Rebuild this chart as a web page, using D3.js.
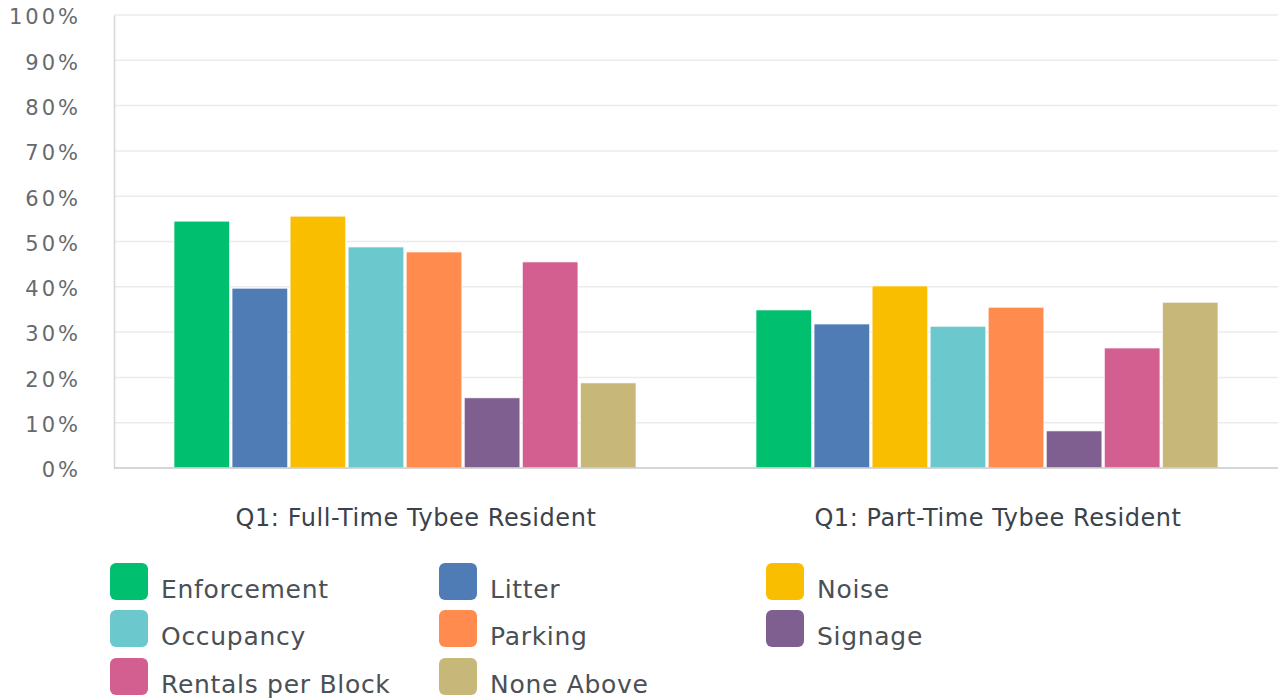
<!DOCTYPE html>
<html><head><meta charset="utf-8">
<script src="https://cdn.jsdelivr.net/npm/d3@7"></script>
<style>body{margin:0;background:#fff;} svg{display:block;}</style>
</head><body>
<svg id="c" width="1281" height="699"></svg>
<script>
const categories = ["Q1: Full-Time Tybee Resident", "Q1: Part-Time Tybee Resident"];
const seriesNames = ["Enforcement","Litter","Noise","Occupancy","Parking","Signage","Rentals per Block","None Above"];
const seriesColors = ["#00BF6F","#507CB6","#F9BE00","#6BC8CD","#FF8B4F","#7F5F90","#D25F90","#C7B879"];
const fullTime = [54.5, 39.7, 55.6, 48.8, 47.7, 15.5, 45.5, 18.8];
const partTime = [34.9, 31.8, 40.2, 31.3, 35.5, 8.2, 26.5, 36.6];
const yTicks = [0,10,20,30,40,50,60,70,80,90,100];

const values = [fullTime, partTime];
const svg = d3.select("#c");
const font = "'DejaVu Sans', sans-serif";
const x0 = d3.scaleBand().domain(categories).range([114,1278]).paddingInner(0.206).paddingOuter(0.103);
const x1 = d3.scaleBand().domain(seriesNames).range([0,x0.bandwidth()]).paddingInner(0.04);
const y = d3.scaleLinear().domain([0,100]).range([468,15]);
const color = d3.scaleOrdinal().domain(seriesNames).range(seriesColors);

// grid
svg.append("g").selectAll("line").data(yTicks.filter(d=>d>0)).join("line")
  .attr("x1",114).attr("x2",1278).attr("y1",d=>y(d)).attr("y2",d=>y(d))
  .attr("stroke","#ebebeb").attr("stroke-width",1.5);

// y axis
const yAxis = svg.append("g").attr("transform","translate(114,0)")
  .call(d3.axisLeft(y).tickValues(yTicks).tickFormat(d=>d+"%").tickSize(0).tickPadding(33));
yAxis.select(".domain").attr("stroke","#d6d6d6").attr("stroke-width",1.5);
yAxis.selectAll("text").attr("font-family",font).attr("font-size",21).attr("fill","#666a6e")
  .attr("letter-spacing","3px").attr("dy","0.42em");

// bars
categories.forEach((c,i)=>{
  svg.append("g").attr("transform",`translate(${x0(c)},0)`)
    .selectAll("rect").data(seriesNames.map((s,j)=>({s,v:values[i][j]}))).join("rect")
    .attr("x",d=>x1(d.s)).attr("width",x1.bandwidth())
    .attr("y",d=>y(d.v)).attr("height",d=>y(0)-y(d.v))
    .attr("fill",d=>color(d.s)).attr("stroke","#fff").attr("stroke-width",0.8);
});

// baseline
svg.append("line").attr("x1",114).attr("x2",1278).attr("y1",y(0)).attr("y2",y(0))
  .attr("stroke","#c9c9c9").attr("stroke-width",1.5);

// x axis labels
const xAxis = svg.append("g").attr("transform",`translate(0,${y(0)})`)
  .call(d3.axisBottom(x0).tickSize(0).tickPadding(41));
xAxis.select(".domain").remove();
xAxis.selectAll("text").attr("font-family",font).attr("font-size",24).attr("fill","#3b4249")
  .attr("letter-spacing","0.55px").attr("dx",11);

// legend
const legend = svg.append("g");
const colX = [110, 439, 766], rowY = [563, 610, 658];
seriesNames.forEach((s,i)=>{
  const g = legend.append("g").attr("transform",`translate(${colX[i%3]},${rowY[Math.floor(i/3)]})`);
  g.append("rect").attr("width",38).attr("height",37).attr("rx",6).attr("fill",color(s));
  g.append("text").attr("x",51).attr("y",35)
    .attr("font-family",font).attr("font-size",25).attr("letter-spacing","0.7px")
    .attr("fill","#4a5056").text(s);
});
</script>
</body></html>
